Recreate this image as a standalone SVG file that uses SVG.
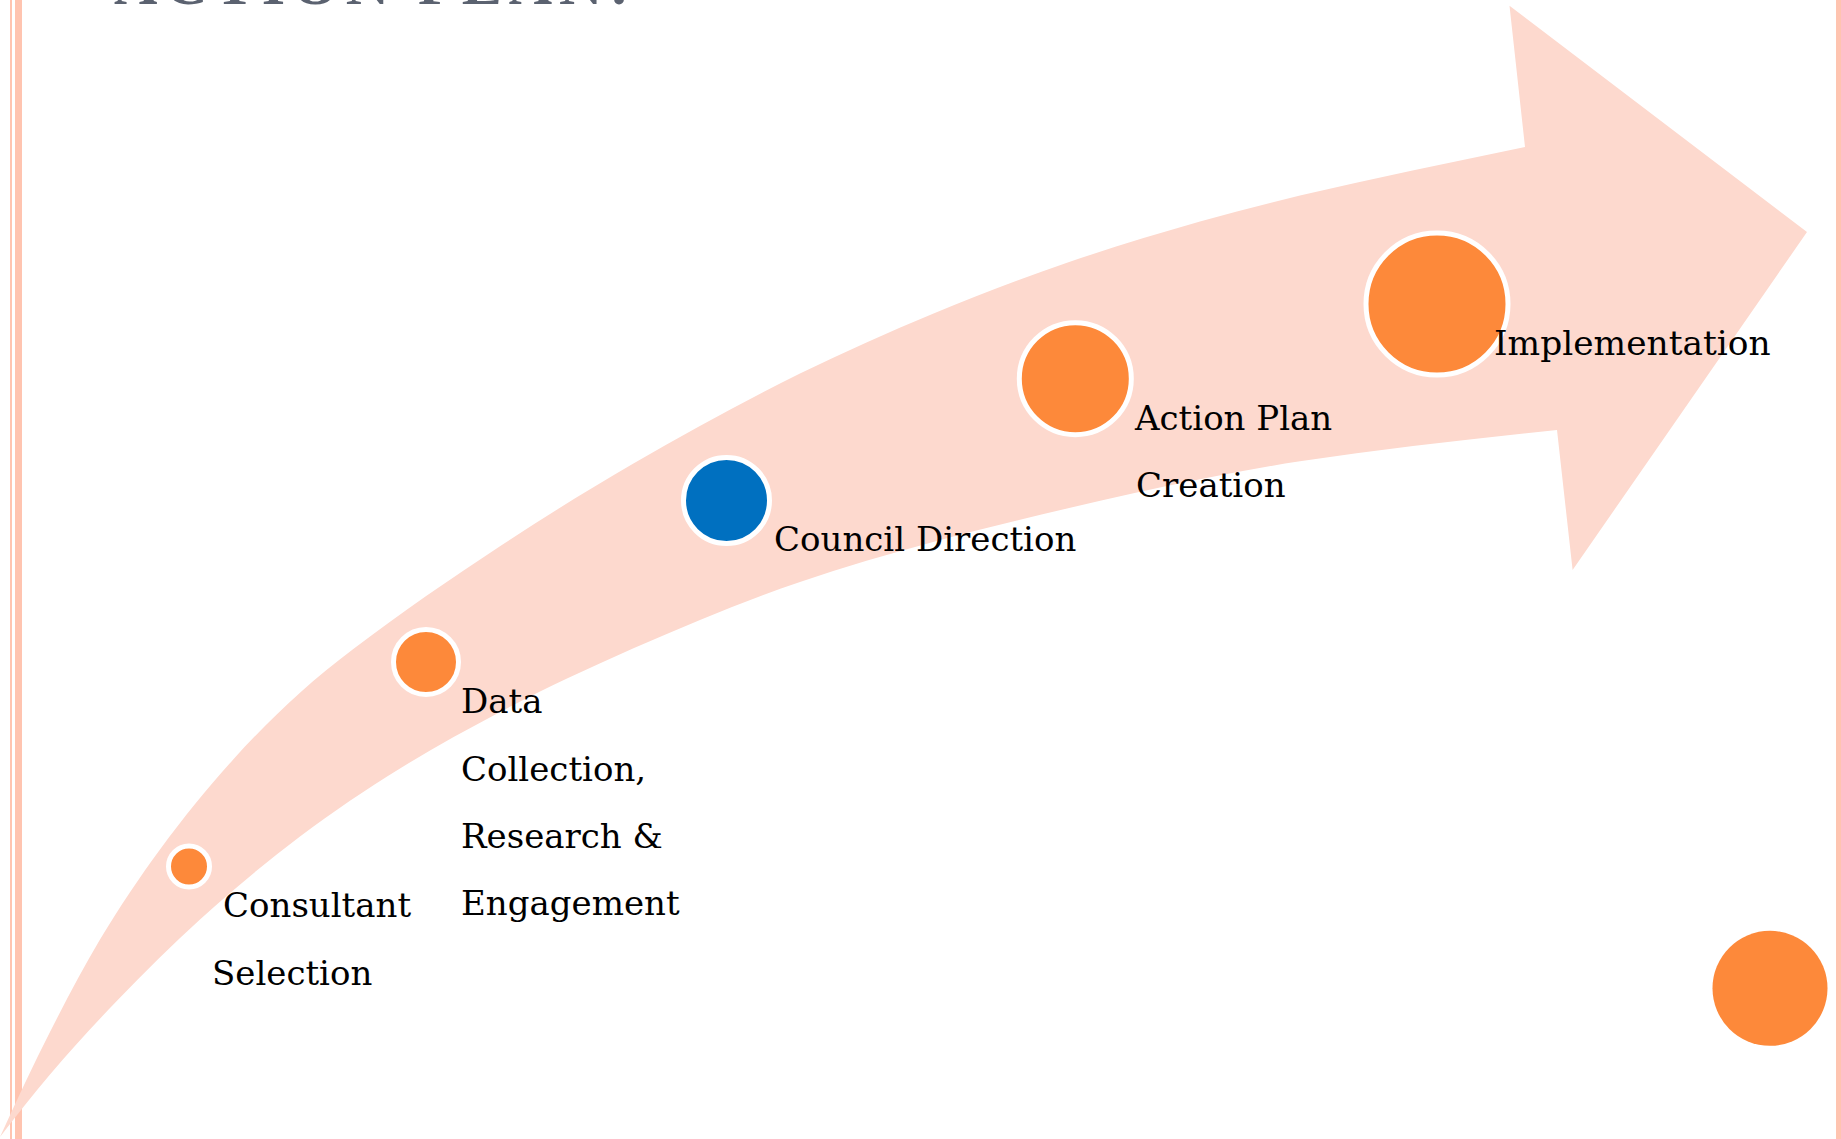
<svg xmlns="http://www.w3.org/2000/svg" width="1841" height="1139" viewBox="0 0 1841 1139">
<style>
.lbl{font-family:"DejaVu Serif","Liberation Serif",serif;font-size:34px;fill:#000;}
.step{fill:#FD893A;stroke:#FFFFFF;stroke-width:5;}
.stepb{fill:#0070C0;stroke:#FFFFFF;stroke-width:5;}
.border{fill:#FFC4B0;}
.title{font-family:"Liberation Serif",serif;font-size:60px;font-weight:bold;fill:#5B6270;letter-spacing:7px;}
</style>
<rect x="0" y="0" width="1841" height="1139" fill="#FFFFFF"/>
<g id="borders">
<rect class="border" x="10" y="0" width="2" height="1139"/>
<rect class="border" x="15" y="0" width="7" height="1139"/>
<rect class="border" x="1836" y="0" width="5" height="1139"/>
</g>
<text class="title" x="114" y="4">ACTION PLAN:</text>
<g id="connectors">
<path id="flow-arrow" fill="#FDD9CE" d="M0,1137 C16.67,1100.3 33.33,1064.9 50,1032 C66.67,999.1 83.33,967.4 100,939.5 C120,906 140,876.8 160,849.5 C184.33,816.3 208.67,786.8 233,759.7 C255.33,734.8 277.67,713 300,692.7 C317.67,676.6 335.33,662.6 353,649.2 C402,612 451,578.6 500,546.3 C544.33,517 588.67,489.5 633,463.8 C688.67,431.5 744.33,401.2 800,373.6 C844.33,351.7 888.67,332.1 933,313.7 C977.67,295.2 1022.33,278.2 1067,262.8 C1111.33,247.5 1155.67,234.2 1200,221.6 C1233.33,212.1 1266.67,203.6 1300,195.6 C1375,177.6 1450,162.75 1525,147 L1509.5,5.7 L1807,232 L1572.6,570 L1557,430 C1471.33,438.6 1385.67,448.5 1300,461.3 C1266.67,466.3 1233.33,472.6 1200,479.3 C1155.67,488.2 1111.33,498.2 1067,508.6 C1022.33,519.1 977.67,529.8 933,542.1 C888.67,554.3 844.33,566.9 800,582 C766.67,593.3 733.33,606.3 700,620 C655.67,638.2 611.33,657.7 567,678.5 C544.67,689 522.33,700.1 500,712 C466.67,729.75 433.33,747.75 400,768.5 C366.67,789.25 333.33,811.3 300,836.5 C266.67,861.7 233.33,889.3 200,919.5 C172.33,944.5 144.67,972 117,1000.8 C94.67,1024 72.33,1048.3 50,1074.5 C33.33,1094.1 16.67,1115.3 0,1137 Z"/>
</g>
<g id="node-consultant">
<circle class="step" cx="189" cy="866.5" r="20.5"/>
<text class="lbl" x="223" y="917">Consultant</text>
<text class="lbl" x="212" y="985">Selection</text>
</g>
<g id="node-data">
<circle class="step" cx="426" cy="662" r="32.5"/>
<text class="lbl" x="461" y="713">Data</text>
<text class="lbl" x="461" y="781">Collection,</text>
<text class="lbl" x="461" y="848">Research &amp;</text>
<text class="lbl" x="461" y="915">Engagement</text>
</g>
<g id="node-council">
<circle class="stepb" cx="726.5" cy="500.5" r="43"/>
<text class="lbl" x="774" y="551">Council Direction</text>
</g>
<g id="node-action">
<circle class="step" cx="1075.3" cy="378.7" r="56"/>
<text class="lbl" x="1135" y="430">Action Plan</text>
<text class="lbl" x="1136" y="497">Creation</text>
</g>
<g id="node-implementation">
<circle class="step" cx="1437" cy="304" r="71"/>
<text class="lbl" x="1494" y="355" style="font-size:34.4px">Implementation</text>
</g>
<g id="node-dot">
<circle cx="1770" cy="988.3" r="57.5" fill="#FD893A"/>
</g>
</svg>
